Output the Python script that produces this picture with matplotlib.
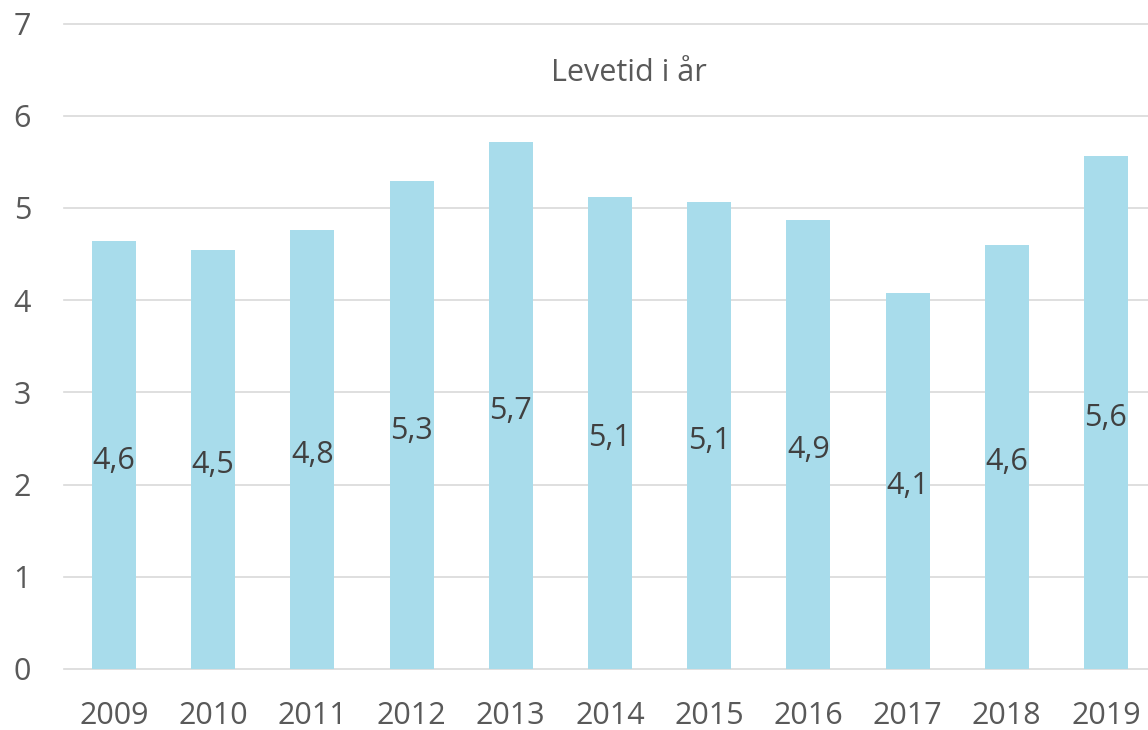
import matplotlib
matplotlib.use("Agg")
import matplotlib.pyplot as plt

years = ["2009", "2010", "2011", "2012", "2013", "2014", "2015", "2016", "2017", "2018", "2019"]
values = [4.64, 4.54, 4.76, 5.29, 5.72, 5.12, 5.06, 4.87, 4.08, 4.60, 5.56]
labels = ["4,6", "4,5", "4,8", "5,3", "5,7", "5,1", "5,1", "4,9", "4,1", "4,6", "5,6"]
yticks = [0, 1, 2, 3, 4, 5, 6, 7]
title = "Levetid i år"

plt.rcParams['font.family'] = ['Open Sans', 'DejaVu Sans']

fig = plt.figure(figsize=(11.48, 7.30), dpi=100)
ax = fig.add_axes([64.4 / 1148, 1 - 669 / 730, 1091.2 / 1148, (669 - 23.5) / 730])

x = list(range(len(years)))
ax.bar(x, values, width=0.444, color="#A8DCEB", zorder=2)

for xi, v, lab in zip(x, values, labels):
    ax.annotate(lab, (xi, v / 2), xytext=(0, -4), textcoords="offset points",
                ha="center", va="center", fontsize=22, color="#404040", zorder=3)

ax.set_xlim(-0.5, len(years) - 0.5)
ax.set_ylim(0, 7)
ax.set_yticks(yticks)
ax.set_yticklabels([str(t) for t in yticks])
ax.set_xticks(x)
ax.set_xticklabels(years)
ax.tick_params(axis="both", length=0, labelsize=22, labelcolor="#595959")
ax.tick_params(axis="y", pad=24)
ax.tick_params(axis="x", pad=23)
for s in ax.spines.values():
    s.set_visible(False)
ax.grid(axis="y", color="#D9D9D9", linewidth=1.2, zorder=0)
ax.set_axisbelow(True)
for gl in ax.get_ygridlines():
    gl.set_clip_on(False)

fig.text(629 / 1148, 1 - 73 / 730, title, ha="center", va="center",
         fontsize=22, color="#595959")

fig.savefig("out.png", dpi=100)
